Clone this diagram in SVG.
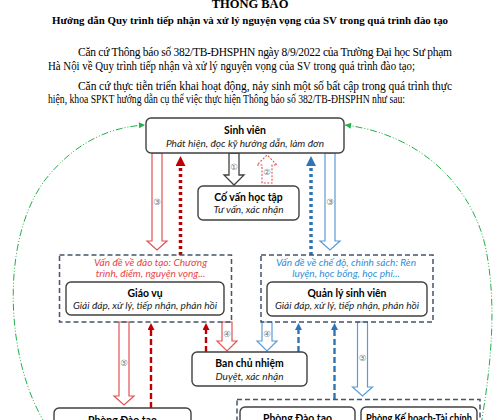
<svg xmlns="http://www.w3.org/2000/svg" width="500" height="420" viewBox="0 0 500 420">
<defs>
<style>
.serif{font-family:"Liberation Serif","Times New Roman",serif;fill:#000}
.hb{font-family:Lato,"Liberation Sans",sans-serif;font-weight:bold;font-size:10.4px;text-anchor:middle;fill:#000}
.hi{font-family:Lato,"Liberation Sans",sans-serif;font-style:italic;font-size:10.1px;text-anchor:middle;fill:#222}
.node{fill:#fff;stroke:#404040;stroke-width:1.4}
.grp{fill:none;stroke:#44546A;stroke-width:1.5;stroke-dasharray:5 3}
.num{font-family:"DejaVu Sans",sans-serif;font-size:8.5px;fill:#777;text-anchor:middle}
.hr{fill:#fff;stroke:#E35353;stroke-width:1.2}
.hbk{fill:#fff;stroke:#404040;stroke-width:1.3}
.hbl{fill:#fff;stroke:#5B9BD5;stroke-width:1.2}
.dotr{stroke:#C00000;stroke-width:3.5;stroke-dasharray:3 3;fill:none}
.dotb{stroke:#2E75B6;stroke-width:3.5;stroke-dasharray:3 3;fill:none}
.dashr{stroke:#C00000;stroke-width:2.4;stroke-dasharray:6 3;fill:none}
.dashb{stroke:#2E75B6;stroke-width:2.4;stroke-dasharray:6 3;fill:none}
.green{stroke:#22B04B;stroke-width:1;stroke-dasharray:7 2 1 2 1 2;fill:none}
</style>
<marker id="hR" viewBox="0 0 10 10" refX="0" refY="5" markerUnits="userSpaceOnUse" markerWidth="10" markerHeight="10" orient="auto"><path d="M0,0 L10,5 L0,10 z" fill="#C00000"/></marker>
<marker id="hB" viewBox="0 0 10 10" refX="0" refY="5" markerUnits="userSpaceOnUse" markerWidth="10" markerHeight="10" orient="auto"><path d="M0,0 L10,5 L0,10 z" fill="#2E75B6"/></marker>
<marker id="sR" viewBox="0 0 10 10" refX="0" refY="5" markerUnits="userSpaceOnUse" markerWidth="7" markerHeight="7" orient="auto"><path d="M0,0 L10,5 L0,10 z" fill="#C00000"/></marker>
<marker id="sB" viewBox="0 0 10 10" refX="0" refY="5" markerUnits="userSpaceOnUse" markerWidth="7" markerHeight="7" orient="auto"><path d="M0,0 L10,5 L0,10 z" fill="#2E75B6"/></marker>
<marker id="gA" viewBox="0 0 10 10" refX="10" refY="5" markerUnits="userSpaceOnUse" markerWidth="7" markerHeight="6" orient="auto"><path d="M0,0 L10,5 L0,10 z" fill="#22B04B"/></marker>
</defs>
<rect width="500" height="420" fill="#fff"/>

<g id="header">
<text class="serif" x="250" y="7.5" font-size="12.5" font-weight="bold" text-anchor="middle">THÔNG BÁO</text>
<text class="serif" x="52" y="23.5" font-size="11" font-weight="bold" textLength="396" lengthAdjust="spacingAndGlyphs">Hướng dẫn Quy trình tiếp nhận và xử lý nguyện vọng của SV trong quá trình đào tạo</text>
<text class="serif" x="78" y="56" font-size="11.5" textLength="374" lengthAdjust="spacing">Căn cứ Thông báo số 382/TB-ĐHSPHN ngày 8/9/2022 của Trường Đại học Sư phạm</text>
<text class="serif" x="48" y="69.5" font-size="11.5" textLength="367" lengthAdjust="spacingAndGlyphs">Hà Nội về Quy trình tiếp nhận và xử lý nguyện vọng của SV trong quá trình đào tạo;</text>
<text class="serif" x="78" y="89.5" font-size="11.5" textLength="374" lengthAdjust="spacing">Căn cứ thực tiễn triển khai hoạt động, nảy sinh một số bất cập trong quá trình thực</text>
<text class="serif" x="48" y="103" font-size="11.5" textLength="357" lengthAdjust="spacingAndGlyphs">hiện, khoa SPKT hướng dẫn cụ thể việc thực hiện Thông báo số 382/TB-ĐHSPHN như sau:</text>
</g>

<g id="connectors">
<path class="green" d="M46 425 C5 360 0 240 45 180 C75 142 110 127 145 125" marker-end="url(#gA)"/>
<path class="green" d="M481 425 C492 360 497 300 485 245 C472 190 425 135 345 125" marker-end="url(#gA)"/>
<path class="hbk" d="M229 153 V175 H224 L234 185 L244 175 H239 V153 Z"/>
<text class="num" x="234" y="170">①</text>
<path d="M262 183 V165 H257 L267 155 L277 165 H272 V183 Z" fill="#fff" stroke="#E35353" stroke-width="1.1" stroke-dasharray="2 1.5"/>
<text class="num" x="267" y="175">②</text>
<path class="hr" d="M152 153 V241 H147 L157 250 L167 241 H162 V153 Z"/>
<text class="num" x="157" y="204.5">③</text>
<line class="dotr" x1="180.5" y1="255" x2="180.5" y2="166" marker-end="url(#hR)"/>
<path class="hbl" d="M325 153 V241 H320 L330 250 L340 241 H335 V153 Z"/>
<text class="num" x="330" y="204.5">③</text>
<line class="dotb" x1="311" y1="255" x2="311" y2="166" marker-end="url(#hB)"/>
<path class="hr" d="M119 322 V396 H114 L124 405 L134 396 H129 V322 Z"/>
<text class="num" x="124" y="365.5">⑤</text>
<line class="dashr" x1="151" y1="408" x2="151" y2="330" marker-end="url(#sR)"/>
<path class="hr" d="M222 322 V341 H217 L227 351 L237 341 H232 V322 Z"/>
<text class="num" x="227" y="337">④</text>
<line class="dashr" x1="206" y1="352" x2="206" y2="330" marker-end="url(#sR)"/>
<path class="hbl" d="M262 322 V341 H257 L267 351 L277 341 H272 V322 Z"/>
<text class="num" x="267" y="337">④</text>
<line class="dashb" x1="298.5" y1="352" x2="298.5" y2="330" marker-end="url(#sB)"/>
<line class="dashb" x1="334.5" y1="399" x2="334.5" y2="330" marker-end="url(#sB)"/>
<path class="hbl" d="M357.5 322 V387 H352.5 L362.5 396 L372.5 387 H367.5 V322 Z"/>
<text class="num" x="362.5" y="360.5">⑤</text>
</g>

<g id="sinhvien">
<rect class="node" x="146" y="118" width="198" height="35" rx="5"/>
<text class="hb" x="245" y="133.5">Sinh viên</text>
<text class="hi" x="245" y="146.5">Phát hiện, đọc kỹ hướng dẫn, làm đơn</text>
</g>

<g id="covan">
<rect class="node" x="198" y="186" width="101" height="34" rx="5"/>
<text class="hb" x="248.5" y="201">Cố vấn học tập</text>
<text class="hi" x="248.5" y="213">Tư vấn, xác nhận</text>
</g>

<g id="giaovu-group">
<rect class="grp" x="59.5" y="255" width="172" height="67"/>
<text class="hi" x="150.5" y="265.5" style="fill:#E84545">Vấn đề về đào tạo: Chương</text>
<text class="hi" x="150.5" y="276.5" style="fill:#E84545">trình, điểm, nguyện vọng...</text>
</g>
<g id="giaovu">
<rect class="node" x="66" y="282" width="158" height="33" rx="5"/>
<text class="hb" x="145" y="297">Giáo vụ</text>
<text class="hi" x="145" y="309">Giải đáp, xử lý, tiếp nhận, phản hồi</text>
</g>

<g id="qlsv-group">
<rect class="grp" x="261" y="255" width="172" height="67"/>
<text class="hi" x="346" y="265.5" style="fill:#2F8FD8">Vấn đề về chế độ, chính sách: Rèn</text>
<text class="hi" x="346" y="276.5" style="fill:#2F8FD8">luyện, học bổng, học phí...</text>
</g>
<g id="qlsv">
<rect class="node" x="267" y="282" width="160" height="34" rx="5"/>
<text class="hb" x="347" y="297">Quản lý sinh viên</text>
<text class="hi" x="347" y="309">Giải đáp, xử lý, tiếp nhận, phản hồi</text>
</g>

<g id="bcn">
<rect class="node" x="192" y="352" width="115" height="34" rx="5"/>
<text class="hb" x="249.5" y="367">Ban chủ nhiệm</text>
<text class="hi" x="249.5" y="379.5">Duyệt, xác nhận</text>
</g>

<g id="pdt-left">
<rect class="node" x="54" y="408" width="137" height="40" rx="5"/>
<text class="hb" x="122.5" y="424">Phòng Đào tạo</text>
</g>

<g id="right-group">
<rect class="grp" x="237" y="399.5" width="243" height="60"/>
</g>
<g id="pdt-right">
<rect class="node" x="240" y="407" width="115" height="40" rx="5"/>
<text class="hb" x="297.5" y="422">Phòng Đào tạo</text>
</g>
<g id="khtc">
<rect class="node" x="361" y="407" width="116" height="40" rx="5"/>
<text class="hb" x="419" y="422" textLength="106" lengthAdjust="spacingAndGlyphs">Phòng Kế hoạch-Tài chính</text>
</g>
</svg>
